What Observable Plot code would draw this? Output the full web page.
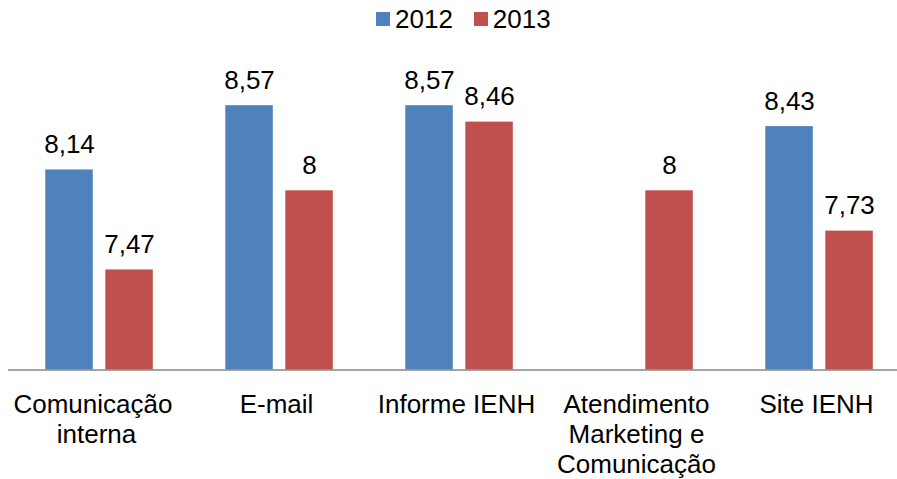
<!DOCTYPE html>
<html>
<head>
<meta charset="utf-8">
<script src="https://cdn.jsdelivr.net/npm/d3@7"></script>
<script src="https://cdn.jsdelivr.net/npm/@observablehq/plot@0.6"></script>
<style>
  html, body { margin: 0; padding: 0; background: #fff; }
  #wrap { position: relative; width: 897px; height: 479px; font-family: "Liberation Sans", Arial, sans-serif; }
  #legend { position: absolute; left: 376px; top: 6px; display: flex; align-items: center; font-size: 26px; line-height: 26px; color: #000; }
  #legend .sw { width: 14px; height: 14px; margin-right: 5px; }
  #legend .item { display: flex; align-items: center; margin-right: 21px; }
</style>
</head>
<body>
<div id="wrap">
  <div id="legend"></div>
  <div id="chart"></div>
</div>
<script>
// ---- data ----
const categories = ["Comunicação interna", "E-mail", "Informe IENH", "Atendimento Marketing e Comunicação", "Site IENH"];
const tickLabels = ["Comunicação \ninterna", "E-mail", "Informe IENH", "Atendimento\nMarketing e\nComunicação", "Site IENH"];
const series = ["2012", "2013"];
const values2012 = [8.14, 8.57, 8.57, null, 8.43];
const values2013 = [7.47, 8.00, 8.46, 8.00, 7.73];
const colors = ["#4F81BD", "#C0504D"];
const yMin = 6.8;
const yMax = 9;

// ---- build ----
const rows2012 = categories.map((c, i) => ({cat: c, value: values2012[i]})).filter(d => d.value != null);
const rows2013 = categories.map((c, i) => ({cat: c, value: values2013[i]})).filter(d => d.value != null);
const fmt = v => String(v).replace(".", ",");
const labelOf = new Map(categories.map((c, i) => [c, tickLabels[i]]));

const W = 897, H = 479;
const fontSize = 26;

const plot = Plot.plot({
  width: W,
  height: H,
  marginLeft: 8,
  marginRight: 0,
  marginTop: 41,
  marginBottom: 109.5,
  style: {fontFamily: "'Liberation Sans', Arial, sans-serif", background: "white", color: "#000"},
  x: {domain: categories, range: [8, 910.5], padding: 0, axis: null, label: null},
  y: {domain: [yMin, yMax], range: [369.5, 41], axis: null},
  marks: [
    Plot.barY(rows2012, {x: "cat", y1: yMin, y2: "value", fill: colors[0], insetLeft: 36.3, insetRight: 96.2}),
    Plot.barY(rows2013, {x: "cat", y1: yMin, y2: "value", fill: colors[1], insetLeft: 96.3, insetRight: 36.2}),
    Plot.text(rows2012, {x: "cat", y: "value", text: d => fmt(d.value), dx: -30, dy: -17, lineAnchor: "bottom", fontSize, fill: "#000"}),
    Plot.text(rows2013, {x: "cat", y: "value", text: d => fmt(d.value), dx: 30, dy: -17, lineAnchor: "bottom", fontSize, fill: "#000"}),
    Plot.ruleY([yMin], {stroke: "#868686", strokeWidth: 1.5}),
    Plot.axisX({domain: categories, anchor: "bottom", label: null, tickSize: 0, tickPadding: 21, fontSize, lineHeight: 1.17, tickFormat: c => labelOf.get(c), textAnchor: "middle", dx: -3, fill: "#000"})
  ]
});
document.getElementById("chart").appendChild(plot);

// ---- legend ----
const legend = document.getElementById("legend");
series.forEach((s, i) => {
  const item = document.createElement("div");
  item.className = "item";
  const sw = document.createElement("div");
  sw.className = "sw";
  sw.style.background = colors[i];
  const t = document.createElement("span");
  t.textContent = s;
  item.appendChild(sw);
  item.appendChild(t);
  legend.appendChild(item);
});
</script>
</body>
</html>
